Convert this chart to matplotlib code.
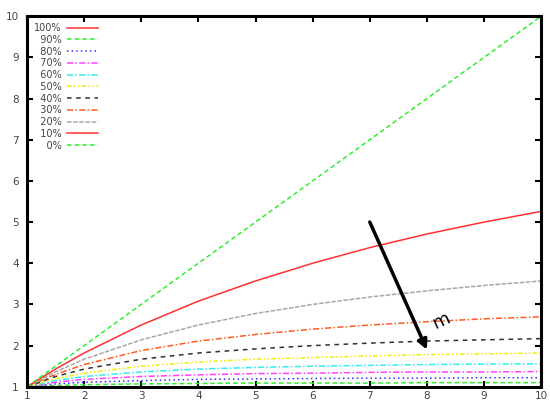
import matplotlib.pyplot as plt

# processors
n = [1, 1.5, 2, 3, 4, 5, 6, 7, 8, 9, 10]

labels = ['100%', '90%', '80%', '70%', '60%', '50%', '40%', '30%', '20%', '10%', '0%']

s100 = [1, 1, 1, 1, 1, 1, 1, 1, 1, 1, 1]
s90 = [1, 1.03, 1.05, 1.07, 1.08, 1.09, 1.09, 1.09, 1.10, 1.10, 1.10]
s80 = [1, 1.07, 1.11, 1.15, 1.18, 1.19, 1.20, 1.21, 1.21, 1.22, 1.22]
s70 = [1, 1.11, 1.18, 1.25, 1.29, 1.32, 1.33, 1.35, 1.36, 1.36, 1.37]
s60 = [1, 1.15, 1.25, 1.36, 1.43, 1.47, 1.50, 1.52, 1.54, 1.55, 1.56]
s50 = [1, 1.20, 1.33, 1.50, 1.60, 1.67, 1.71, 1.75, 1.78, 1.80, 1.82]
s40 = [1, 1.25, 1.43, 1.67, 1.82, 1.92, 2.00, 2.06, 2.11, 2.14, 2.17]
s30 = [1, 1.30, 1.54, 1.88, 2.11, 2.27, 2.40, 2.50, 2.58, 2.65, 2.70]
s20 = [1, 1.36, 1.67, 2.14, 2.50, 2.78, 3.00, 3.18, 3.33, 3.46, 3.57]
s10 = [1, 1.43, 1.82, 2.50, 3.08, 3.57, 4.00, 4.38, 4.71, 5.00, 5.26]
s0 = [1, 1.5, 2, 3, 4, 5, 6, 7, 8, 9, 10]

series = [s100, s90, s80, s70, s60, s50, s40, s30, s20, s10, s0]

colors = ['#ff3030', '#30ee30', '#3030ff', '#ff40ff', '#30eeee', '#f0f000',
          '#303030', '#ff5a20', '#a8a8a8', '#ff3030', '#30ee30']
styles = ['-', (0, (3, 2)), (0, (1, 2)), (0, (4, 1.5, 1, 1.5)), (0, (4, 1.5, 1, 1.5)),
          (0, (3, 1.5, 1, 1.5, 1, 1.5)), (0, (3, 3)), (0, (4, 1.5, 1, 1.5)),
          (0, (3, 1)), '-', (0, (3, 2))]

fig = plt.figure(figsize=(5.5, 4.05), dpi=100)
ax = fig.add_axes([0.049, 0.045, 0.935, 0.915])

for lab, ys, c, ls in zip(labels, series, colors, styles):
    ax.plot(n, ys, color=c, linestyle=ls, lw=1.1,
            label=lab.rjust(4, '\u2007'))

ax.annotate('', xy=(8, 1.9), xytext=(7, 5),
            arrowprops=dict(arrowstyle='-|>', color='black', lw=2.5,
                            mutation_scale=14, shrinkA=0, shrinkB=0))
ax.text(8.25, 2.6, 'm', fontsize=13, rotation=25,
        ha='center', va='center')

ax.set_xlim(1, 10)
ax.set_ylim(1, 10)
ax.set_xticks(range(1, 11))
ax.set_yticks(range(1, 11))
ax.tick_params(direction='in', top=True, right=True, length=4, width=1.5,
               labelsize=7.5, labelcolor='#444444')
ax.tick_params(axis='x', pad=3)
ax.tick_params(axis='y', pad=6)
for sp in ax.spines.values():
    sp.set_linewidth(2.2)

leg = ax.legend(loc='upper left', markerfirst=False, frameon=False,
                fontsize=7, labelspacing=0.18, handlelength=3.2,
                handletextpad=0.6, borderaxespad=0.3,
                bbox_to_anchor=(0.0, 1.0))
for t in leg.get_texts():
    t.set_color('#444444')

fig.savefig('out.png')
